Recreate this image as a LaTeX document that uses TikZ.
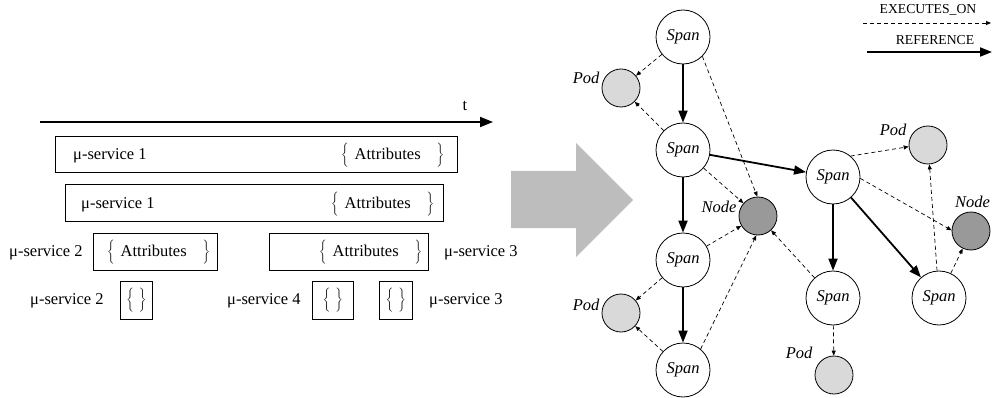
\documentclass[tikz,border=0pt]{standalone}
\usepackage{fontspec}
\setmainfont{Liberation Serif}
\usetikzlibrary{arrows.meta}
\definecolor{podgray}{HTML}{D9D9D9}
\definecolor{hostgray}{HTML}{999999}
\definecolor{shiftgray}{HTML}{BDBDBD}
\newcommand{\attrs}{$\bigg\{$\hspace{6pt}Attributes\hspace{16pt}$\bigg\}$}
\newcommand{\noattrs}{$\bigg\{$\hspace{5pt}$\bigg\}$}

\begin{document}
\begin{tikzpicture}[x=1pt, y=-1pt,
    txt/.style={font=\fontsize{16.5}{19}\selectfont, inner sep=0pt},
    lgd/.style={font=\fontsize{13.7}{16}\selectfont, inner sep=0pt},
    tag/.style={font=\fontsize{16.5}{19}\selectfont\itshape, inner sep=2pt},
    tbox/.style={draw, line width=0.8pt, anchor=north west, inner sep=0pt},
    span/.style={circle, draw, line width=0.8pt, fill=white, minimum size=54pt, inner sep=0pt, font=\fontsize{16.5}{19}\selectfont\itshape},
    pod/.style={circle, draw, line width=0.8pt, fill=podgray, minimum size=38pt, inner sep=0pt},
    host/.style={pod, fill=hostgray},
    refarrow/.style={line width=1.8pt, -{Triangle[length=12pt, width=9pt]}},
    execarrow/.style={line width=0.7pt, dash pattern=on 4pt off 3pt, -{Triangle[length=5pt, width=4pt]}},
  ]
  \useasboundingbox (0,0) rectangle (992,398);

  % time line
  \coordinate (t0) at (40,122);
  \coordinate (t1) at (493,122);
  \draw[line width=1.8pt, -{Triangle[length=13pt, width=10pt]}] (t0) -- (t1);
  \node[txt] (tlbl) at (465,106) {t};

  % boxes
  \node[tbox, minimum width=402pt, minimum height=36pt] (box1) at (55,136) {};
  \node[tbox, minimum width=378pt, minimum height=37pt] (box2) at (65,184) {};
  \node[tbox, minimum width=124pt, minimum height=37pt] (box3) at (93,233) {};
  \node[tbox, minimum width=159pt, minimum height=37pt] (box4) at (269,233) {};
  \node[tbox, minimum width=32pt, minimum height=38pt] (box5) at (120,281) {};
  \node[tbox, minimum width=41pt, minimum height=38pt] (box6) at (312,281) {};
  \node[tbox, minimum width=33pt, minimum height=38pt] (box7) at (379,281) {};

  % texts
  \node[txt, anchor=west] (svc1a) at (73,156) {μ-service 1};
  \node[txt, anchor=west] (att1) at (341,155) {\attrs};
  \node[txt, anchor=west] (svc1b) at (81,205) {μ-service 1};
  \node[txt, anchor=west] (att2) at (331,204) {\attrs};
  \node[txt, anchor=west] (svc2a) at (9,253) {μ-service 2};
  \node[txt, anchor=west] (att3) at (107,252) {\attrs};
  \node[txt, anchor=west] (att4) at (319,252) {\attrs};
  \node[txt, anchor=west] (svc3a) at (444,253) {μ-service 3};
  \node[txt, anchor=west] (svc2b) at (30,301) {μ-service 2};
  \node[txt] (nil5) at (box5) {\noattrs};
  \node[txt, anchor=west] (svc4) at (227,301) {μ-service 4};
  \node[txt] (nil6) at (box6) {\noattrs};
  \node[txt] (nil7) at (box7) {\noattrs};
  \node[txt, anchor=west] (svc3b) at (429,301) {μ-service 3};

  % big arrow
  \fill[shiftgray] (511,171) -- (576,171) -- (576,143) -- (633,200) -- (576,257) -- (576,228) -- (511,228) -- cycle;

  % nodes
  \node[span] (span1) at (683,37) {Span};
  \node[span] (span2) at (683,150) {Span};
  \node[span] (span3) at (833,177) {Span};
  \node[span] (span4) at (683,260) {Span};
  \node[span] (span5) at (683,370) {Span};
  \node[span] (span6) at (833,298) {Span};
  \node[span] (span7) at (939,298) {Span};
  \node[pod] (pod1) at (621,88) {};
  \node[pod] (pod2) at (928,145) {};
  \node[pod] (pod3) at (621,313) {};
  \node[pod] (pod4) at (834,375) {};
  \node[host] (node1) at (758,216) {};
  \node[host] (node2) at (971,231) {};
  \node[tag, anchor=east] (pod1lbl) at ([yshift=10pt]pod1.west) {Pod};
  \node[tag, anchor=east] (pod2lbl) at ([yshift=15pt]pod2.west) {Pod};
  \node[tag, anchor=east] (pod3lbl) at ([yshift=8pt]pod3.west) {Pod};
  \node[tag, anchor=east] (pod4lbl) at ([yshift=22pt]pod4.west) {Pod};
  \node[tag, anchor=east] (node1lbl) at ([yshift=9pt]node1.west) {Node};
  \node[tag, anchor=south west] (node2lbl) at ([xshift=-18pt, yshift=2pt]node2.north) {Node};

  % lines
  \draw[refarrow] (span1) -- (span2);
  \draw[refarrow] (span2) -- (span3);
  \draw[refarrow] (span2) -- (span4);
  \draw[refarrow] (span4) -- (span5);
  \draw[refarrow] (span3) -- (span6);
  \draw[refarrow] (span3) -- (span7);
  \draw[execarrow] (span1) -- (pod1);
  \draw[execarrow] (span2) -- (pod1);
  \draw[execarrow] (span1.-45) -- (node1.92);
  \draw[execarrow] (span2) -- (node1);
  \draw[execarrow] (span4) -- (node1);
  \draw[execarrow] (span5.50) -- (node1.-95);
  \draw[execarrow] (span6) -- (node1);
  \draw[execarrow] (span4) -- (pod3);
  \draw[execarrow] (span5) -- (pod3);
  \draw[execarrow] (span6) -- (pod4);
  \draw[execarrow] (span3.50) -- (pod2.185);
  \draw[execarrow] (span3.-3) -- (node2.178);
  \draw[execarrow] (span7) -- (node2);
  \draw[execarrow] (span7) -- (pod2);

  % legend
  \coordinate (exA) at (863,23);
  \coordinate (exB) at (991,23);
  \draw[execarrow] (exA) -- (exB);
  \node[lgd] (exlbl) at (928,10) {EXECUTES\_ON};
  \coordinate (refA) at (867,52);
  \coordinate (refB) at (992,52);
  \draw[refarrow] (refA) -- (refB);
  \node[lgd] (reflbl) at (935,40) {REFERENCE};
\end{tikzpicture}
\end{document}
